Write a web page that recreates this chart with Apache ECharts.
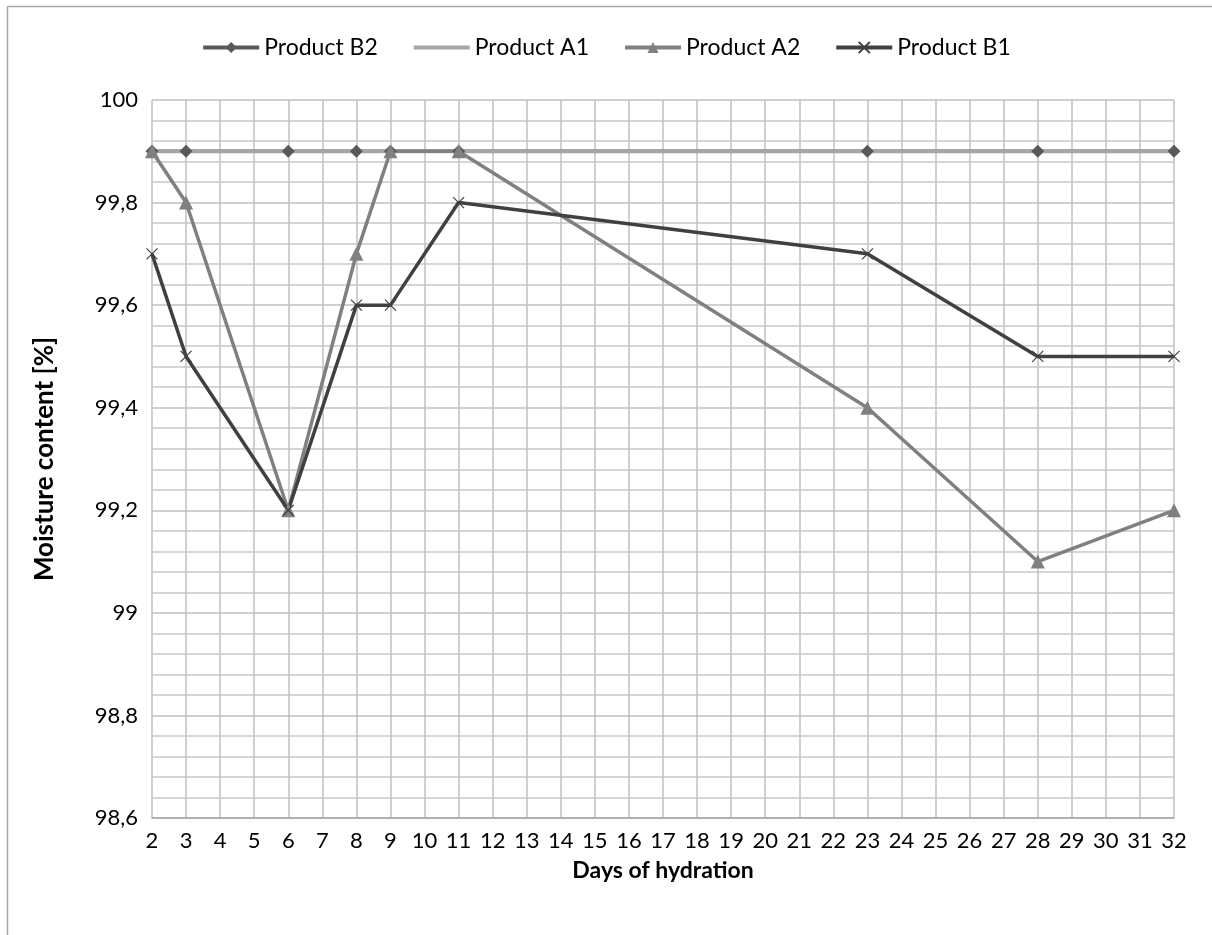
<!DOCTYPE html>
<html>
<head>
<meta charset="utf-8">
<script src="https://cdn.jsdelivr.net/npm/echarts@6/dist/echarts.min.js"></script>
<style>
html,body{margin:0;padding:0;background:#fff;}
#chart{width:1212px;height:935px;}
</style>
</head>
<body>
<div id="chart"></div>
<script>
const days = [2, 3, 6, 8, 9, 11, 23, 28, 32];
const productB2 = [99.9, 99.9, 99.9, 99.9, 99.9, 99.9, 99.9, 99.9, 99.9];
const productA1 = [99.9, 99.9, 99.9, 99.9, 99.9, 99.9, 99.9, 99.9, 99.9];
const productA2 = [99.9, 99.8, 99.2, 99.7, 99.9, 99.9, 99.4, 99.1, 99.2];
const productB1 = [99.7, 99.5, 99.2, 99.6, 99.6, 99.8, 99.7, 99.5, 99.5];
const seriesNames = ['Product B2', 'Product A1', 'Product A2', 'Product B1'];

const pairs = arr => days.map((d, i) => [d, arr[i]]);
const FONT = 'Lato';
const FS = 22;
const xMark = 'path://M0,0L10,10M10,0L0,10';

const chart = echarts.init(document.getElementById('chart'), null, {renderer: 'canvas'});
chart.setOption({
  backgroundColor: '#fff',
  animation: false,
  textStyle: {fontFamily: FONT},
  graphic: [
    {type: 'line', shape: {x1: 7.5, y1: 6.5, x2: 7.5, y2: 935}, style: {stroke: '#a6a6a6', lineWidth: 1.5}},
    {type: 'line', shape: {x1: 7.5, y1: 6.5, x2: 1212, y2: 6.5}, style: {stroke: '#a6a6a6', lineWidth: 1.5}}
  ],
  legend: {
    top: 31,
    left: 'center',
    itemWidth: 56,
    itemHeight: 14,
    itemGap: 34,
    lineStyle: {width: 4},
    textStyle: {fontFamily: FONT, fontSize: 23, color: '#000'},
    data: [
      seriesNames[0],
      {name: seriesNames[1], itemStyle: {opacity: 0}},
      seriesNames[2],
      seriesNames[3]
    ]
  },
  grid: {left: 152, right: 38, top: 100, bottom: 117},
  xAxis: {
    type: 'value',
    min: 2, max: 32, interval: 1,
    name: 'Days of hydration',
    nameLocation: 'middle',
    nameGap: 41,
    nameTextStyle: {fontFamily: FONT, fontSize: 23, fontWeight: 'bold', color: '#000'},
    axisLine: {show: true, lineStyle: {color: '#a6a6a6', width: 1.5}},
    axisTick: {show: false},
    axisLabel: {fontFamily: FONT, fontSize: FS, color: '#000', margin: 12},
    splitLine: {show: true, lineStyle: {color: '#c0c0c0', width: 1.5}}
  },
  yAxis: {
    type: 'value',
    min: 98.6, max: 100, interval: 0.2,
    name: 'Moisture content [%]',
    nameLocation: 'middle',
    nameGap: 94,
    nameTextStyle: {fontFamily: FONT, fontSize: 26, fontWeight: 'bold', color: '#000'},
    axisLine: {show: false},
    axisTick: {show: false},
    axisLabel: {
      fontFamily: FONT, fontSize: FS, color: '#000', margin: 14,
      formatter: v => String(+(+v).toFixed(1)).replace('.', ',')
    },
    splitLine: {show: true, lineStyle: {color: '#c0c0c0', width: 1.5}},
    minorTick: {show: false, splitNumber: 5},
    minorSplitLine: {show: true, lineStyle: {color: '#c8c8c8', width: 1.5}}
  },
  series: [
    {
      name: seriesNames[0], type: 'line', data: pairs(productB2),
      symbol: 'diamond', symbolSize: 13, showAllSymbol: true,
      lineStyle: {color: '#595959', width: 3.5},
      itemStyle: {color: '#595959'}
    },
    {
      name: seriesNames[1], type: 'line', data: pairs(productA1),
      symbol: 'none',
      lineStyle: {color: '#a6a6a6', width: 4},
      itemStyle: {color: '#a6a6a6'}
    },
    {
      name: seriesNames[2], type: 'line', data: pairs(productA2),
      symbol: 'triangle', symbolSize: 14,
      lineStyle: {color: '#808080', width: 3.5},
      itemStyle: {color: '#808080'}
    },
    {
      name: seriesNames[3], type: 'line', data: pairs(productB1),
      symbol: xMark, symbolSize: 11,
      lineStyle: {color: '#404040', width: 3.5},
      itemStyle: {color: '#404040', borderColor: '#404040', borderWidth: 1.2}
    }
  ]
});
</script>
</body>
</html>
